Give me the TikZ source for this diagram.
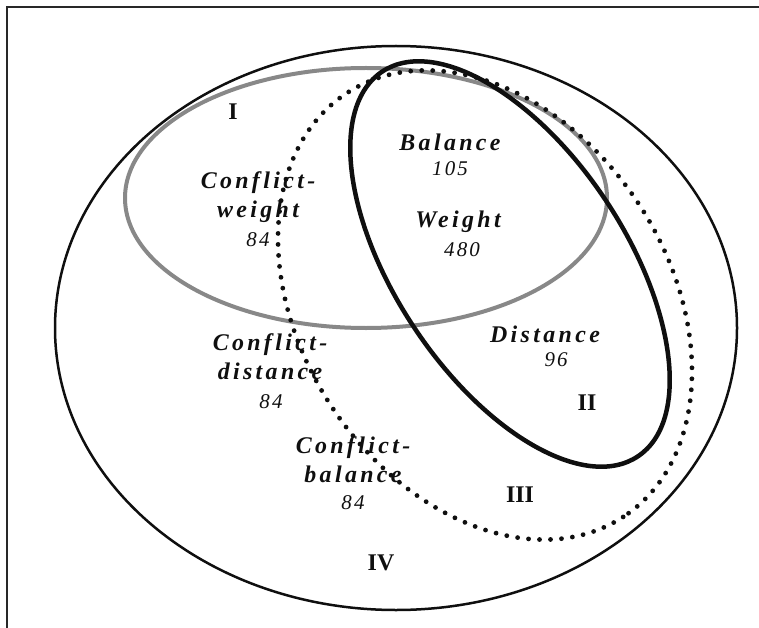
\documentclass[tikz,border=0pt]{standalone}
\usepackage{fontspec}
\setmainfont{Liberation Serif}
\newfontfamily\spacedfont[LetterSpace=14]{Liberation Serif}
\newfontfamily\countfont[LetterSpace=10]{Liberation Serif}
\usepackage{tikz}
\definecolor{mydark}{RGB}{15,15,15}
\definecolor{mygray}{RGB}{136,136,136}
\definecolor{myframe}{RGB}{40,40,40}
\tikzset{
  setname/.style={align=center, inner sep=0pt, text=mydark,
    font=\spacedfont\bfseries\itshape\fontsize{24}{29}\selectfont},
  setcount/.style={inner sep=0pt, text=mydark,
    font=\countfont\itshape\fontsize{21}{24}\selectfont},
  region/.style={inner sep=0pt, text=mydark,
    font=\bfseries\fontsize{24}{28}\selectfont},
  outerset/.style={line width=2.5bp, color=mydark},
  grayset/.style={line width=4bp, color=mygray},
  thickset/.style={line width=4.5bp, color=mydark},
  dotset/.style={line width=4.8bp, color=mydark, line cap=round,
    dash pattern=on 0bp off 11bp}
}

\begin{document}
\begin{tikzpicture}[x=1bp, y=-1bp]
  \useasboundingbox (0,0) rectangle (759,628);

  % Frame
  \draw[line width=2.2bp, color=myframe] (7,628) -- (7,7) -- (759,7);

  % Sets
  \draw[outerset] (396,328) ellipse [x radius=341, y radius=282];
  \draw[grayset] (366,198) ellipse [x radius=241, y radius=130];
  \draw[thickset, rotate around={-56.4:(510,264)}] (510,264) ellipse [x radius=231, y radius=115];
  \draw[dotset, rotate around={-56.9:(485,305)}] (485,305) ellipse [x radius=253, y radius=184];

  % Region numbers
  \node[region] (rI) at (233,112) {I};
  \node[region] (rII) at (587,403) {II};
  \node[region] (rIII) at (520,495) {III};
  \node[region] (rIV) at (381,563) {IV};

  % Set names and counts
  \node[setname] (balance) at (450,142) {Balance};
  \node[setcount] (nbalance) at (450,169) {105};
  \node[setname] (weight) at (458,222) {Weight};
  \node[setcount] (nweight) at (462,250) {480};
  \node[setname] (distance) at (545,334) {Distance};
  \node[setcount] (ndistance) at (556,360) {96};
  \node[setname] (cweight) at (258,197) {Conflict-\\weight};
  \node[setcount] (ncweight) at (258,240) {84};
  \node[setname] (cdistance) at (270,357) {Conflict-\\distance};
  \node[setcount] (ncdistance) at (271,402) {84};
  \node[setname] (cbalance) at (353,460) {Conflict-\\balance};
  \node[setcount] (ncbalance) at (353,503) {84};
\end{tikzpicture}
\end{document}
